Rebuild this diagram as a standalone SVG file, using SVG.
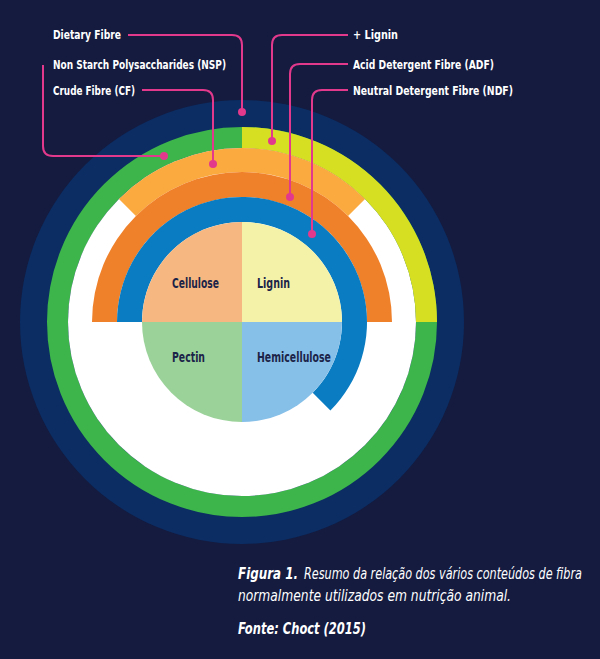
<svg xmlns="http://www.w3.org/2000/svg" width="600" height="659" viewBox="0 0 600 659">
<style>
.lbl{font-family:"DejaVu Sans Condensed","Liberation Sans",sans-serif;font-weight:bold;font-size:13px;fill:#ffffff}
.pie{font-family:"DejaVu Sans Condensed","Liberation Sans",sans-serif;font-weight:bold;font-size:14px;fill:#1B2448}
.cap{font-family:"DejaVu Sans Condensed","Liberation Sans",sans-serif;font-style:italic;font-size:15px;fill:#ffffff}
.ld{fill:none;stroke:#E3398C;stroke-width:2}
.dot{fill:#E3398C}
</style>
<rect width="600" height="659" fill="#141B3F"/>
<g id="rings">
<circle cx="242" cy="322" r="222" fill="#0B2D63"/>
<circle cx="242" cy="322" r="184.5" fill="none" stroke="#3DB54A" stroke-width="21"/>
<circle cx="242" cy="322" r="174" fill="#ffffff"/>
<path id="lignin-arc" d="M242 127 A195 195 0 0 1 437 322 L416 322 A174 174 0 0 0 242 148 Z" fill="#D7DF23"/>
<path id="cf-arc" d="M118.96 198.96 A174 174 0 0 1 365.04 198.96 L348.07 215.93 A150 150 0 0 0 135.93 215.93 Z" fill="#FBAA3F"/>
<path id="adf-arc" d="M92 322 A150 150 0 0 1 392 322 L367 322 A125 125 0 0 0 117 322 Z" fill="#F0812B"/>
<path id="ndf-arc" d="M117 322 A125 125 0 1 1 330.39 410.39 L312.71 392.71 A100 100 0 1 0 142 322 Z" fill="#0A7DC2"/>
</g>
<g id="pie">
<path d="M242 322 L142 322 A100 100 0 0 1 242 222 Z" fill="#F6B880"/>
<path d="M242 322 L242 222 A100 100 0 0 1 342 322 Z" fill="#F4F1A8"/>
<path d="M242 322 L142 322 A100 100 0 0 0 242 422 Z" fill="#9BD29A"/>
<path d="M242 322 L342 322 A100 100 0 0 1 242 422 Z" fill="#86BFE8"/>
<text class="pie" x="172" y="288" textLength="47" lengthAdjust="spacingAndGlyphs">Cellulose</text>
<text class="pie" x="257" y="288" textLength="33" lengthAdjust="spacingAndGlyphs">Lignin</text>
<text class="pie" x="172" y="362" textLength="33" lengthAdjust="spacingAndGlyphs">Pectin</text>
<text class="pie" x="257" y="362" textLength="74" lengthAdjust="spacingAndGlyphs">Hemicellulose</text>
</g>
<g id="connectors">
<path class="ld" d="M128 35 H232 Q242 35 242 45 V112"/>
<circle class="dot" cx="242" cy="112" r="4"/>
<path class="ld" d="M348 35 H282 Q272 35 272 45 V141"/>
<circle class="dot" cx="272" cy="141" r="4"/>
<path class="ld" d="M43 65 V146 Q43 156 53 156 H164"/>
<circle class="dot" cx="164" cy="156" r="4"/>
<path class="ld" d="M142 90 H203 Q213 90 213 100 V164"/>
<circle class="dot" cx="213" cy="164" r="4"/>
<path class="ld" d="M348 64 H300 Q290 64 290 74 V197"/>
<circle class="dot" cx="290" cy="197" r="4"/>
<path class="ld" d="M348 90 H322 Q312 90 312 100 V234"/>
<circle class="dot" cx="312" cy="234" r="4"/>
</g>
<g id="labels">
<text class="lbl" x="53" y="39" textLength="68" lengthAdjust="spacingAndGlyphs">Dietary Fibre</text>
<text class="lbl" x="53" y="69" textLength="173" lengthAdjust="spacingAndGlyphs">Non Starch Polysaccharides (NSP)</text>
<text class="lbl" x="53" y="95" textLength="82" lengthAdjust="spacingAndGlyphs">Crude Fibre (CF)</text>
<text class="lbl" x="353" y="39" textLength="45" lengthAdjust="spacingAndGlyphs">+ Lignin</text>
<text class="lbl" x="353" y="69" textLength="141" lengthAdjust="spacingAndGlyphs">Acid Detergent Fibre (ADF)</text>
<text class="lbl" x="353" y="95" textLength="160" lengthAdjust="spacingAndGlyphs">Neutral Detergent Fibre (NDF)</text>
</g>
<g id="caption">
<text class="cap" x="238" y="579" font-weight="bold" textLength="60" lengthAdjust="spacingAndGlyphs">Figura 1.</text>
<text class="cap" x="304" y="579" textLength="278" lengthAdjust="spacingAndGlyphs">Resumo da relação dos vários conteúdos de fibra</text>
<text class="cap" x="238" y="601" textLength="273" lengthAdjust="spacingAndGlyphs">normalmente utilizados em nutrição animal.</text>
<text class="cap" x="238" y="634" font-weight="bold" textLength="128" lengthAdjust="spacingAndGlyphs">Fonte: Choct (2015)</text>
</g>
</svg>
